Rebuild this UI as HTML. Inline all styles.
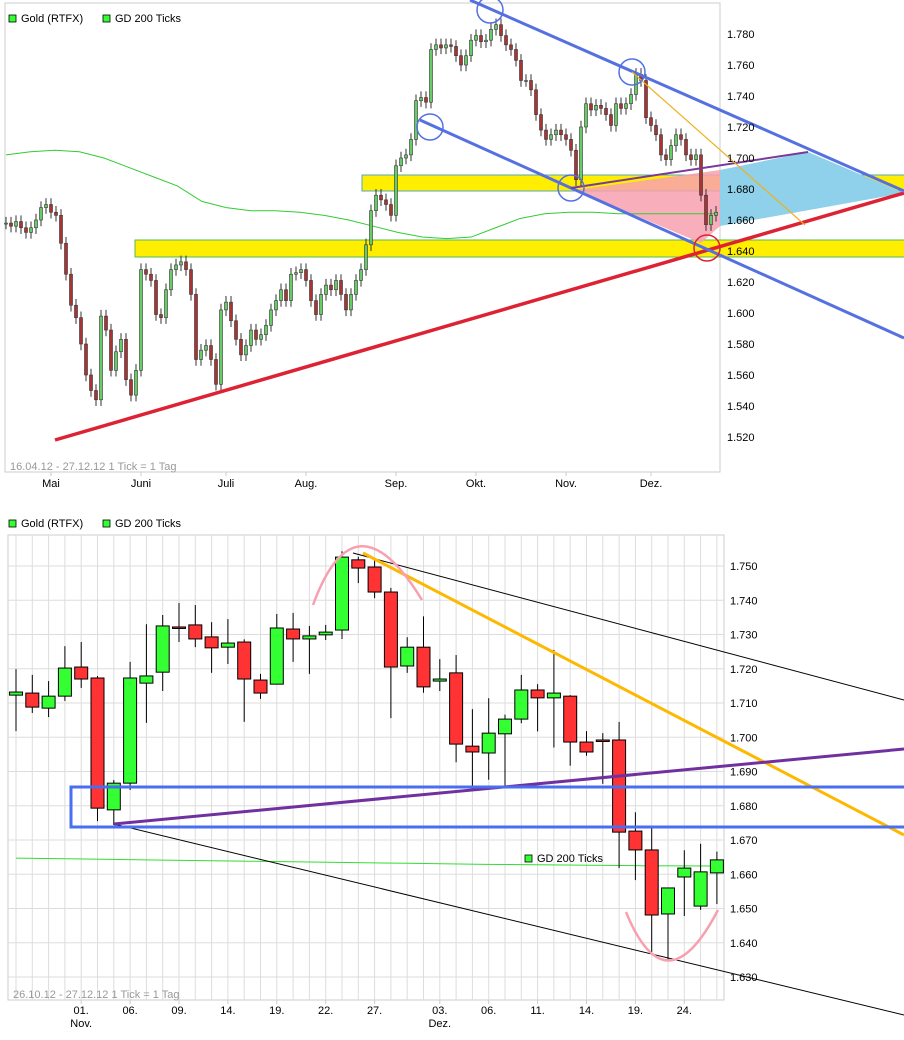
<!DOCTYPE html>
<html><head><meta charset="utf-8"><style>
html,body{margin:0;padding:0;background:#fff;}
svg{display:block;font-family:"Liberation Sans",sans-serif;}
</style></head><body>
<svg id="c" width="904" height="1040" viewBox="0 0 904 1040"></svg>
<script>
// ---------- TOP CHART DATA ----------
const topCloses=[1.658,1.656,1.659,1.655,1.652,1.655,1.660,1.668,1.670,1.665,1.663,1.645,1.625,1.605,1.597,1.580,1.560,1.550,1.544,1.598,1.589,1.563,1.575,1.583,1.557,1.547,1.563,1.628,1.625,1.621,1.599,1.597,1.615,1.628,1.631,1.633,1.628,1.612,1.570,1.576,1.579,1.570,1.554,1.602,1.607,1.595,1.583,1.573,1.579,1.589,1.583,1.586,1.592,1.602,1.608,1.615,1.608,1.625,1.626,1.628,1.621,1.608,1.599,1.612,1.618,1.615,1.621,1.612,1.602,1.612,1.621,1.628,1.644,1.666,1.676,1.673,1.670,1.663,1.695,1.700,1.702,1.712,1.737,1.739,1.736,1.770,1.773,1.771,1.773,1.772,1.766,1.760,1.766,1.776,1.779,1.775,1.776,1.783,1.786,1.779,1.773,1.770,1.763,1.750,1.750,1.744,1.728,1.718,1.712,1.715,1.718,1.715,1.712,1.705,1.686,1.720,1.735,1.731,1.734,1.732,1.728,1.721,1.735,1.732,1.735,1.741,1.754,1.750,1.726,1.721,1.715,1.702,1.699,1.708,1.715,1.712,1.702,1.699,1.702,1.676,1.657,1.663,1.665];
const topMA=[1.702,1.704,1.705,1.704,1.700,1.694,1.688,1.682,1.672,1.668,1.666,1.666,1.665,1.663,1.660,1.656,1.652,1.649,1.648,1.649,1.655,1.661,1.664,1.665,1.665,1.664,1.664,1.664,1.664,1.664];
const topTicks=[1.520,1.540,1.560,1.580,1.600,1.620,1.640,1.660,1.680,1.700,1.720,1.740,1.760,1.780];
const topMonths=["Mai","Juni","Juli","Aug.","Sep.","Okt.","Nov.","Dez."];
const topMonthIdx=[9,27,44,60,78,94,112,129];
// ---------- BOTTOM CHART DATA ----------
const bOpen=[1.7123,1.7129,1.7085,1.7120,1.7205,1.7173,1.6788,1.6866,1.7158,1.7190,1.7322,1.7328,1.7293,1.7263,1.7278,1.7167,1.7155,1.7316,1.7287,1.7299,1.7313,1.7518,1.7497,1.7424,1.7208,1.7263,1.7164,1.7188,1.6974,1.6954,1.7010,1.7053,1.7138,1.7115,1.7120,1.6986,1.6992,1.6992,1.6726,1.6671,1.6484,1.6592,1.6507,1.6604];
const bClose=[1.7132,1.7088,1.7120,1.7202,1.7170,1.6793,1.6866,1.7173,1.7179,1.7325,1.7320,1.7287,1.7261,1.7275,1.7170,1.7129,1.7319,1.7287,1.7296,1.7307,1.7526,1.7494,1.7424,1.7205,1.7263,1.7147,1.7170,1.6980,1.6957,1.7012,1.7053,1.7138,1.7115,1.7129,1.6986,1.6957,1.6990,1.6723,1.6671,1.6481,1.6560,1.6618,1.6607,1.6642];
const bHigh=[1.7199,1.7182,1.7164,1.7266,1.7278,1.7179,1.6875,1.7220,1.7330,1.7357,1.7392,1.7386,1.7336,1.7345,1.7286,1.7185,1.7360,1.7363,1.7325,1.7328,1.7543,1.7527,1.7518,1.7436,1.7292,1.7353,1.7228,1.7240,1.7082,1.7114,1.7066,1.7182,1.7155,1.7255,1.7123,1.7018,1.7012,1.7045,1.6781,1.6735,1.6534,1.6670,1.6689,1.6666];
const bLow=[1.7018,1.7071,1.7059,1.7106,1.7144,1.6755,1.6744,1.6846,1.7042,1.7135,1.7278,1.7263,1.7188,1.7214,1.7045,1.7112,1.7155,1.7220,1.7185,1.7284,1.7287,1.7450,1.7406,1.7056,1.7188,1.7130,1.7135,1.6927,1.6858,1.6876,1.6857,1.7041,1.7017,1.6970,1.6917,1.6946,1.6864,1.6618,1.6583,1.6373,1.6348,1.6478,1.6496,1.6513];
const bMA=[1.6647,1.6644,1.6641,1.6638,1.6635,1.6632,1.6629,1.6627,1.6625,1.6624];
const bTicks=[1.630,1.640,1.650,1.660,1.670,1.680,1.690,1.700,1.710,1.720,1.730,1.740,1.750];
const bDayLabels=["01.","06.","09.","14.","19.","22.","27.","03.","06.","11.","14.","19.","24."];
const bDayIdx=[4,7,10,13,16,19,22,26,29,32,35,38,41];

const NS="http://www.w3.org/2000/svg";
const svg=document.getElementById('c');
function mk(tag,attrs,parent){const e=document.createElementNS(NS,tag);for(const k in attrs)e.setAttribute(k,attrs[k]);(parent||svg).appendChild(e);return e;}
function txt(x,y,s,attrs,parent){const e=mk('text',Object.assign({x:x,y:y,'font-size':11,fill:'#000'},attrs||{}),parent);e.textContent=s;return e;}

// ===== TOP CHART =====
const tx=i=>6+i*(710/(topCloses.length-1));
const ty=v=>34+(1.78-v)*1550;
const gTop=mk('g',{});


mk('rect',{x:5,y:3,width:715,height:469,fill:'#fff',stroke:'#ccc'},gTop);
// bands
const b1=mk('rect',{x:362,y:175,width:545,height:16,fill:'#ffee00',stroke:'#5ab'},gTop);


const b2=mk('rect',{x:135,y:240,width:772,height:17,fill:'#ffee00',stroke:'#5b5'},gTop);


// pink & cyan areas
const pk=mk('polygon',{points:'575,190 720,170 720,226 701,243',fill:'#f8a0b0',opacity:0.85},gTop);


const cy=mk('polygon',{points:'720,170 808,152 904,193 720,226',fill:'#8fd0ea'},gTop);


// ma
let d='';
topMA.forEach((v,i)=>{const x=6+i*(710/(topMA.length-1));d+=(i?'L':'M')+x+','+ty(v);});
const ma=mk('path',{d:d,fill:'none',stroke:'#33cc33','stroke-width':1},gTop);


// candles
topCloses.forEach((c,i)=>{
  const o=i?topCloses[i-1]:c;const x=tx(i);
  const hi=Math.max(o,c)+0.004,lo=Math.min(o,c)-0.004;
  const w=mk('line',{x1:x,x2:x,y1:ty(hi),y2:ty(lo),stroke:'#333','stroke-width':1},gTop);
  
  
  const up=c>=o;
  const r=mk('rect',{x:x-1.5,y:ty(Math.max(o,c)),width:3,height:Math.max(1,Math.abs(ty(o)-ty(c))),fill:up?'#6c6':'#a33',stroke:'#333','stroke-width':0.6},gTop);
  
  
});
// lines
const lns=[[55,440,904,193,'#dd2233',3.5,'red-support-line'],[470,0,904,191,'#5570e0',3,'upper-channel-line'],[420,120,904,338,'#5570e0',3,'lower-channel-line'],[571,188,808,152,'#7a3a9a',2,'purple-line'],[632,72,805,225,'#f0b020',1.2,'orange-line']];
lns.forEach(l=>{const e=mk('line',{x1:l[0],y1:l[1],x2:l[2],y2:l[3],stroke:l[4],'stroke-width':l[5]},gTop);});
[[490,10,'#5570e0'],[430,127,'#5570e0'],[632,72,'#5570e0'],[571,188,'#5570e0'],[707,248,'#dd2233']].forEach(c=>{const e=mk('circle',{cx:c[0],cy:c[1],r:13,fill:'none',stroke:c[2],'stroke-width':1.5},gTop);});
// cover right of plot for axis labels
mk('rect',{x:720.5,y:0,width:0,height:0},gTop);
topTicks.forEach(v=>{const t=txt(727,ty(v)+4,v.toFixed(3).replace(/^1\./,'1.'),{'font-size':11},gTop);});
topMonths.forEach((m,i)=>{const x=tx(topMonthIdx[i]);mk('line',{x1:x,x2:x,y1:472,y2:476,stroke:'#ccc'},gTop);const t=txt(x,487,m,{'text-anchor':'middle'},gTop);});
const l1=txt(10,470,'16.04.12 - 27.12.12   1 Tick = 1 Tag',{fill:'#999','font-size':11},gTop);

function legend(y,parent,nm){
  const g=mk('g',{},parent);
  mk('rect',{x:9,y:y-7,width:7,height:7,fill:'#3f3',stroke:'#000','stroke-width':0.8},g);txt(21,y,'Gold (RTFX)',{'font-size':11},g);
  mk('rect',{x:103,y:y-7,width:7,height:7,fill:'#3f3',stroke:'#000','stroke-width':0.8},g);txt(115,y,'GD 200 Ticks',{'font-size':11},g);
}
legend(22,gTop,'top-legend');

// ===== BOTTOM CHART =====
const bx=i=>16+i*16.3;
const by=v=>566+(1.75-v)*3425;
const gB=mk('g',{});


mk('rect',{x:8,y:535,width:716,height:465,fill:'#fff',stroke:'#ccc'},gB);
for(let i=0;i<44;i++)mk('line',{x1:bx(i),x2:bx(i),y1:535,y2:1000,stroke:'#ddd'},gB);
bTicks.forEach(v=>{mk('line',{x1:8,x2:724,y1:by(v),y2:by(v),stroke:'#ddd'},gB);const t=txt(730,by(v)+4,v.toFixed(3),{'font-size':11},gB);});
let d2='';bMA.forEach((v,i)=>{const x=16+i*(704/(bMA.length-1));d2+=(i?'L':'M')+x+','+by(v);});
const ma2=mk('path',{d:d2,fill:'none',stroke:'#33dd33','stroke-width':1},gB);

bOpen.forEach((o,i)=>{
  const c=bClose[i],x=bx(i);
  const w=mk('line',{x1:x,x2:x,y1:by(bHigh[i]),y2:by(bLow[i]),stroke:'#000','stroke-width':1},gB);
  
  const r=mk('rect',{x:x-6.5,y:by(Math.max(o,c)),width:13,height:Math.max(1.5,Math.abs(by(o)-by(c))),fill:c>=o?'#33ff33':'#ff3333',stroke:'#000','stroke-width':1},gB);
  
});
const bl=[[353,553,904,700,'#000',1,'upper-black-line'],[114,824,904,1015,'#000',1,'lower-black-line'],[363,553,904,835,'#ffb800',3,'orange-trend-line'],[114,824,904,749,'#7030a0',3,'purple-trend-line']];
bl.forEach(l=>{const e=mk('line',{x1:l[0],y1:l[1],x2:l[2],y2:l[3],stroke:l[4],'stroke-width':l[5]},gB);});
const br=mk('rect',{x:71,y:787,width:845,height:40,fill:'none',stroke:'#4a6ef0','stroke-width':3},gB);

const a1=mk('path',{d:'M313,605 Q355,490 422,600',fill:'none',stroke:'#f8a0b0','stroke-width':2.5},gB);

const a2=mk('path',{d:'M626,912 Q666,1010 718,910',fill:'none',stroke:'#f8a0b0','stroke-width':2.5},gB);

mk('rect',{x:525,y:855,width:7,height:7,fill:'#3f3',stroke:'#000','stroke-width':0.8},gB);
const gl=txt(537,862,'GD 200 Ticks',{'font-size':11},gB);
bDayLabels.forEach((s,i)=>{const x=bx(bDayIdx[i]);mk('line',{x1:x,x2:x,y1:1000,y2:1004,stroke:'#ccc'},gB);const t=txt(x,1014,s,{'text-anchor':'middle'},gB);});
txt(bx(4),1027,'Nov.',{'text-anchor':'middle'},gB);
txt(bx(26),1027,'Dez.',{'text-anchor':'middle'},gB);
const l2=txt(13,998,'26.10.12 - 27.12.12   1 Tick = 1 Tag',{fill:'#999','font-size':11},gB);

legend(527,gB,'bottom-legend');
</script>
</body></html>
